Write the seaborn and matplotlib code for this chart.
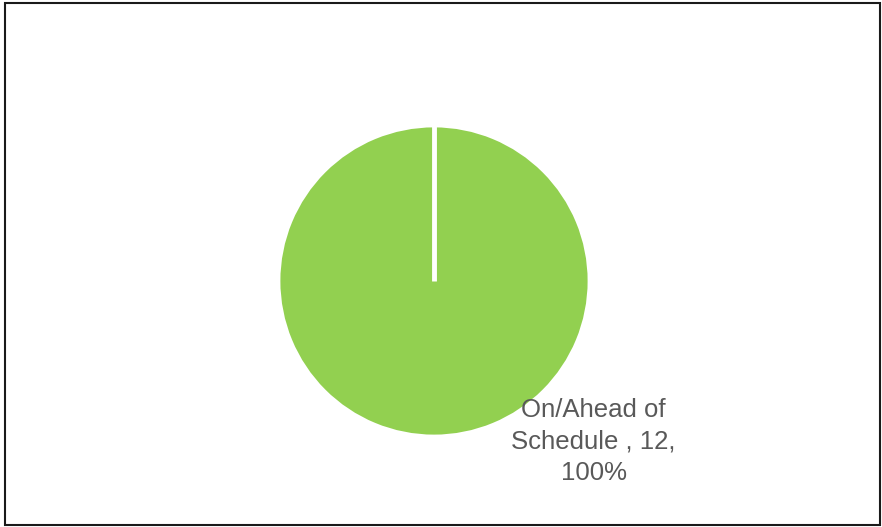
import matplotlib
matplotlib.use("Agg")
import numpy as np
import matplotlib.pyplot as plt
import seaborn as sns
from matplotlib.patches import Rectangle

categories = ["On/Ahead of Schedule "]
values = [12]
colors = ["#92D050"]

sns.set_theme(style="white")
plt.rcParams['font.family'] = ['Liberation Sans Narrow', 'Liberation Sans', 'DejaVu Sans']

W, H = 882, 527
fig = plt.figure(figsize=(W / 100, H / 100), dpi=100)
fig.patch.set_facecolor("white")

cx, cy, r = 434, 281, 155
start = 90
ax = fig.add_axes([(cx - r) / W, (H - cy - r) / H, 2 * r / W, 2 * r / H])
wedges, _ = ax.pie(values, colors=colors, startangle=start, counterclock=False, radius=1,
                   wedgeprops=dict(edgecolor="white", linewidth=2))
# slice boundary from the centre at the start angle (a full slice draws no radial edge)
ang = np.deg2rad(start)
ax.plot([0, np.cos(ang)], [0, np.sin(ang)], color="white", linewidth=3.5,
        solid_capstyle="butt", zorder=5)
ax.set_xlim(-1, 1)
ax.set_ylim(-1, 1)
ax.set_aspect("equal")
ax.axis("off")

total = sum(values)
label = f"On/Ahead of\nSchedule , {values[0]},\n{values[0] / total:.0%}"
ax.text(1.03, -1.035, label, ha="center", va="center", fontsize=18.5,
        color="#595959", linespacing=1.4)

fig.patches.append(Rectangle((5 / W, 2 / H), 875 / W, 522 / H, transform=fig.transFigure,
                             fill=False, edgecolor="#1a1a1a", linewidth=1.5))

fig.savefig("out.png", dpi=100)
